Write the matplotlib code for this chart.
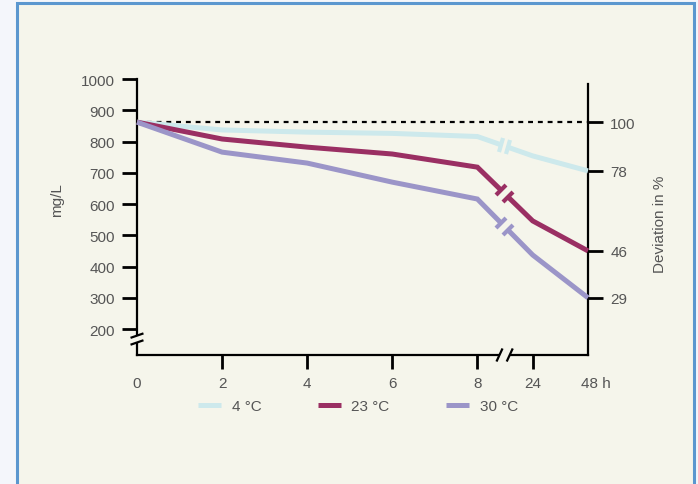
#!/usr/bin/env python3
"""Concentration over time at three storage temperatures (broken time axis)."""

import numpy as np
import matplotlib
matplotlib.use("Agg")
import matplotlib.pyplot as plt
from matplotlib.patches import Rectangle
from matplotlib.markers import MarkerStyle
from matplotlib.transforms import Affine2D, ScaledTranslation, blended_transform_factory

plt.rcParams["font.family"] = ["Liberation Sans", "DejaVu Sans"]

# data
hours = [0, 2, 4, 6, 8, 24, 48]
hour_labels = ["0", "2", "4", "6", "8", "24", "48 h"]
conc_4c = [862, 837, 830, 826, 816, 754, 706]
conc_23c = [862, 808, 782, 760, 718, 546, 450]
conc_30c = [862, 766, 731, 670, 616, 437, 300]
series_labels = ["4 °C", "23 °C", "30 °C"]
left_ticks = [200, 300, 400, 500, 600, 700, 800, 900, 1000]
dev_values = [862, 706, 450, 300]
dev_labels = ["100", "78", "46", "29"]

# broken axis: hours 0-8 linear, then 24 and 48 squeezed in after the break
x_pos = [0, 2, 4, 6, 8, 9.3, 10.6]
x_break = 8.64

colors = ["#cde9ec", "#9a2f63", "#9b95c8"]
cream = "#f5f5eb"
grey = "#555555"
fs = 11

fig = plt.figure(figsize=(6.98, 4.85), dpi=100)
fig.patch.set_facecolor("#f4f6fb")
fig.patches.append(Rectangle((17 / 698, -0.05), 677 / 698, 1.05 - 4 / 485,
                             transform=fig.transFigure, facecolor=cream,
                             edgecolor="#5b97cf", linewidth=2.2, zorder=-5))

ax = fig.add_axes([137 / 698, 129 / 485, 451 / 698, 276 / 485])
ax.set_facecolor("none")
ax.set_xlim(0, 10.6)
ax.set_ylim(117, 1000)

# spines
ax.spines["top"].set_visible(False)
for side in ["left", "bottom", "right"]:
    ax.spines[side].set_linewidth(1.6)
ax.spines["right"].set_bounds(117, 985)

ax.set_yticks(left_ticks)
ax.set_yticklabels([str(v) for v in left_ticks])
ax.set_xticks(x_pos)
ax.set_xticklabels(hour_labels)
ax.tick_params(axis="both", direction="out", length=11, width=2,
               labelsize=fs, labelcolor=grey, pad=5)
ax.tick_params(axis="x", length=10, pad=5)
ax.tick_params(axis="y", right=False)
xt = ax.xaxis.get_major_ticks()
xt[0].tick1line.set_visible(False)
xt[-1].tick1line.set_visible(False)
xt[-1].label1.set_transform(xt[-1].label1.get_transform()
                            + ScaledTranslation(8 / 100, 0, fig.dpi_scale_trans))

# right axis with deviation labels
ax2 = ax.twinx()
ax2.set_ylim(ax.get_ylim())
for side in ["top", "left", "bottom", "right"]:
    ax2.spines[side].set_visible(False)
ax2.set_yticks(dev_values)
ax2.set_yticklabels(dev_labels)
ax2.tick_params(axis="y", direction="out", length=11, width=2,
                labelsize=fs, labelcolor=grey, pad=5)

# 100 % reference line
ax.axhline(conc_4c[0], color="black", linestyle=(0, (2.2, 2.2)), linewidth=1.6,
           zorder=2)

fig.canvas.draw()


def line_angle(x0, y0, x1, y1):
    p0 = ax.transData.transform((x0, y0))
    p1 = ax.transData.transform((x1, y1))
    return np.degrees(np.arctan2(p1[1] - p0[1], p1[0] - p0[0]))


gap = 0.08
for vals, col, lab in zip([conc_4c, conc_23c, conc_30c], colors, series_labels):
    y8, y24 = vals[4], vals[5]
    xa, xb = x_pos[4], x_pos[5]
    ya = np.interp(x_break - gap, [xa, xb], [y8, y24])
    yb = np.interp(x_break + gap, [xa, xb], [y8, y24])
    left_x = x_pos[:5] + [x_break - gap]
    left_y = vals[:5] + [ya]
    right_x = [x_break + gap] + x_pos[5:]
    right_y = [yb] + vals[5:]
    ax.plot(left_x, left_y, color=col, linewidth=3.6, solid_capstyle="butt",
            solid_joinstyle="miter", label=lab, zorder=3, clip_on=False)
    ax.plot(right_x, right_y, color=col, linewidth=3.6, solid_capstyle="butt",
            solid_joinstyle="miter", zorder=3, clip_on=False)
    ang = line_angle(xa, y8, xb, y24) + 90
    cap = MarkerStyle("_", transform=Affine2D().rotate_deg(ang))
    ax.plot([x_break - gap, x_break + gap], [ya, yb], linestyle="none",
            marker=cap, markersize=10, markeredgewidth=3, color=col, zorder=3)

# break on x axis
bt = blended_transform_factory(ax.transData, ax.transAxes)
ax.add_patch(Rectangle((x_break - 0.12, -0.01), 0.24, 0.02, transform=bt,
                       facecolor=cream, edgecolor="none", clip_on=False, zorder=5))
for dx in (-0.12, 0.12):
    ax.plot([x_break + dx - 0.06, x_break + dx + 0.06], [-0.02, 0.02],
            transform=bt, color="black", linewidth=1.6, clip_on=False, zorder=6)

# break on y axis
bt_y = blended_transform_factory(ax.transAxes, ax.transData)
ax.add_patch(Rectangle((-0.006, 158), 0.012, 22, transform=bt_y,
                       facecolor=cream, edgecolor="none", clip_on=False, zorder=5))
for dy in (-11, 11):
    ax.plot([-0.012, 0.012], [168 + dy - 6, 168 + dy + 6], transform=bt_y,
            color="black", linewidth=1.6, clip_on=False, zorder=6)

fig.text(57 / 698, 1 - 200 / 485, "mg/L", rotation=90, ha="center",
         va="center", fontsize=fs, color=grey)
fig.text(660 / 698, 1 - 224 / 485, "Deviation in %", rotation=90,
         ha="center", va="center", fontsize=fs, color=grey)

ax.legend(loc="upper center", bbox_to_anchor=(0.49, -0.11), ncol=3,
          frameon=False, fontsize=fs, labelcolor=grey, handlelength=1.5,
          handletextpad=0.7, columnspacing=3.7)

fig.savefig("out.png", dpi=100, facecolor=fig.get_facecolor())
